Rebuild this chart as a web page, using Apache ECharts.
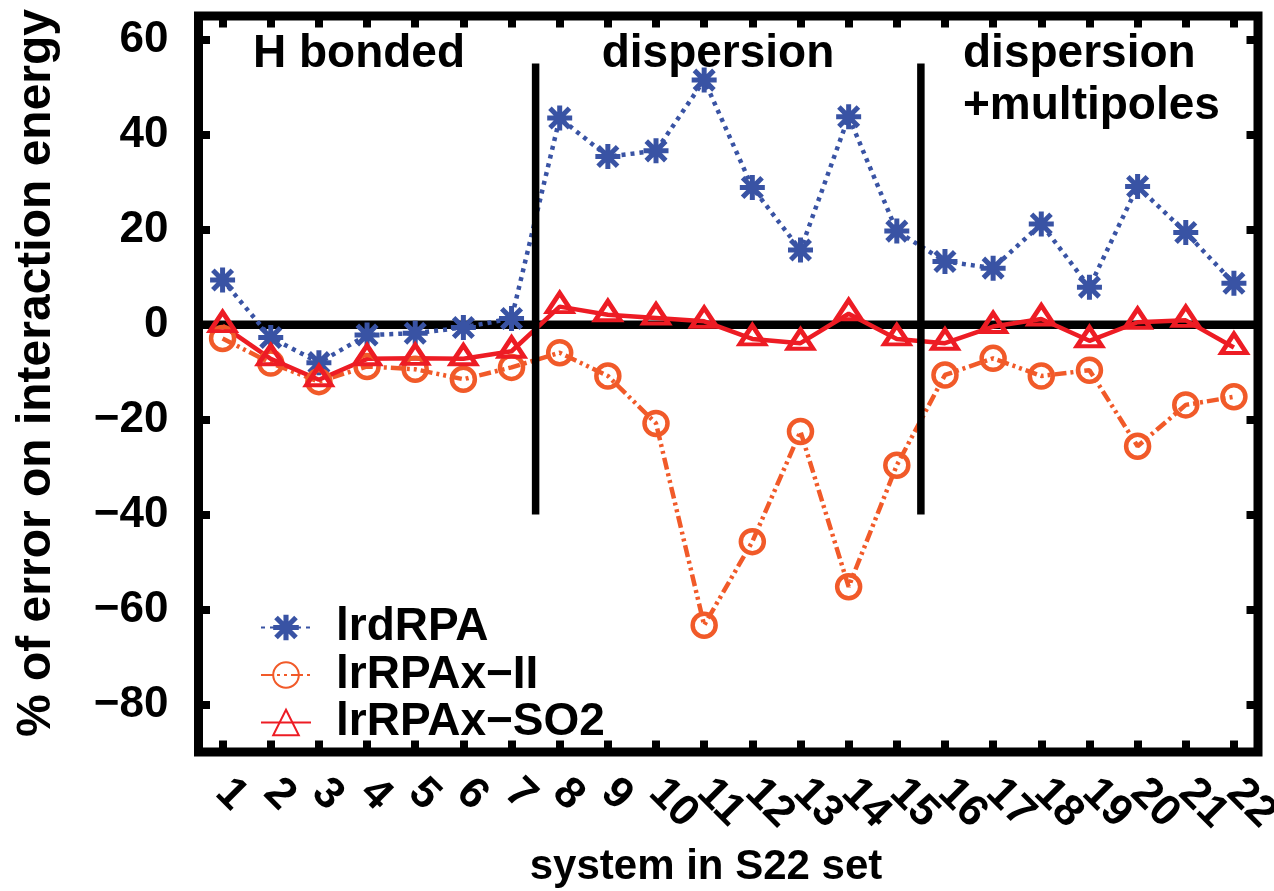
<!DOCTYPE html>
<html>
<head>
<meta charset="utf-8">
<script src="https://cdn.jsdelivr.net/npm/echarts@6/dist/echarts.min.js"></script>
<style>
  html, body { margin: 0; padding: 0; background: #fff; }
  #chart { width: 1274px; height: 891px; }
</style>
</head>
<body>
<div id="chart"></div>
<script>
// S22 benchmark: percentage error on the interaction energy per system
const systems = [1, 2, 3, 4, 5, 6, 7, 8, 9, 10, 11, 12, 13, 14, 15, 16, 17, 18, 19, 20, 21, 22];
const systemLabels = ['1', '2', '3', '4', '5', '6', '7', '8', '9', '10', '11',
                      '12', '13', '14', '15', '16', '17', '18', '19', '20', '21', '22'];
const yTickValues = [-80, -60, -40, -20, 0, 20, 40, 60];

const lrdRPA    = [9.4, -2.7, -8.0, -2.2, -1.8, -0.6, 1.3, 43.5, 35.4, 36.6, 51.5,
                   28.9, 15.7, 43.8, 19.7, 13.3, 11.9, 21.2, 7.9, 29.1, 19.4, 8.7];
const lrRPAxII  = [-2.9, -8.1, -12.0, -8.8, -9.4, -11.5, -9.0, -5.9, -10.8, -20.8, -63.3,
                   -45.7, -22.5, -55.2, -29.6, -10.6, -7.1, -10.8, -9.6, -25.6, -16.9, -15.2];
const lrRPAxSO2 = [-0.2, -7.2, -11.6, -7.2, -7.1, -7.2, -5.6, 3.8, 2.1, 1.4, 0.7,
                   -3.0, -3.9, 2.3, -3.0, -3.9, -0.4, 1.2, -3.4, 0.5, 0.9, -4.8];

const seriesNames = ['lrdRPA', 'lrRPAx\u2212II', 'lrRPAx\u2212SO2'];
const groupDividers = [7.5, 15.5];      // boundaries between the three classes
const dividerSpan = [-40, 55];
const groupTitles = ['H bonded', 'dispersion', 'dispersion\n+multipoles'];
const xTitle = 'system in S22 set';
const yTitle = '% of error on interaction energy';

const X_MIN = 0.5, X_MAX = 22.5;

const FONT = '"Liberation Sans", Arial, Helvetica, sans-serif';
const BLUE = '#3953a4', ORANGE = '#f15a29', RED = '#ed1c24';

// eight-armed asterisk built from filled bars
const ASTERISK = 'path://M0 40L100 40L100 60L0 60Z M40 0L60 0L60 100L40 100Z ' +
  'M18.1 3.9L96.1 81.9L81.9 96.1L3.9 18.1Z M81.9 3.9L96.1 18.1L18.1 96.1L3.9 81.9Z';

const pts = arr => systems.map((s, i) => [s, arr[i]]);

// blank end stops at the axis limits keep every rotated system label visible
const xLabelValues = [X_MIN].concat(systems, [X_MAX]);
const xLabelText = v => {
  const i = systems.indexOf(v);
  return i < 0 ? '' : systemLabels[i];
};

const chart = echarts.init(document.getElementById('chart'), null, { renderer: 'canvas' });

const tickStyle = { color: '#000', width: 8 };
const xAxisBase = {
  type: 'value', min: X_MIN, max: X_MAX, gridIndex: 0,
  axisLine: { show: false, onZero: false }, splitLine: { show: false },
  axisTick: { show: true, inside: true, length: 11.5, lineStyle: tickStyle, customValues: xLabelValues }
};
const yAxisBase = {
  type: 'value', min: -90, max: 65, gridIndex: 0,
  axisLine: { show: false, onZero: false }, splitLine: { show: false },
  axisTick: { show: true, inside: true, length: 11.5, lineStyle: tickStyle, customValues: yTickValues }
};

const dividerSeries = groupDividers.map(x => ({
  type: 'line', silent: true, z: 3, symbol: 'none',
  lineStyle: { color: '#000', width: 7.5, cap: 'butt' },
  data: [[x, dividerSpan[0]], [x, dividerSpan[1]]]
}));

const option = {
  animation: false,
  backgroundColor: '#fff',
  grid: {
    left: 198.5, top: 16, width: 1059.5, height: 736,
    containLabel: false, outerBoundsMode: 'none',
    show: true, borderColor: '#000', borderWidth: 9, backgroundColor: 'transparent'
  },
  xAxis: [
    Object.assign({}, xAxisBase, {
      position: 'bottom',
      axisLabel: {
        show: true, customValues: xLabelValues, rotate: -45, margin: 34,
        showMinLabel: false, showMaxLabel: false, hideOverlap: false,
        formatter: xLabelText,
        fontSize: 44, fontWeight: 'bold', color: '#000', fontFamily: FONT
      }
    }),
    Object.assign({}, xAxisBase, { position: 'top', axisLabel: { show: false } })
  ],
  yAxis: [
    Object.assign({}, yAxisBase, {
      position: 'left',
      axisLabel: {
        show: true, customValues: yTickValues, margin: 30,
        showMinLabel: true, showMaxLabel: true,
        formatter: v => (v < 0 ? '\u2212' + Math.abs(v) : String(v)),
        fontSize: 44, fontWeight: 'bold', color: '#000', fontFamily: FONT
      }
    }),
    Object.assign({}, yAxisBase, { position: 'right', axisLabel: { show: false } })
  ],
  legend: {
    data: seriesNames,
    orient: 'vertical', left: 255, top: 599,
    itemWidth: 50, itemHeight: 32, itemGap: 0.5,
    selectedMode: false,
    textStyle: {
      fontSize: 46, fontWeight: 'bold', color: '#000', fontFamily: FONT,
      lineHeight: 47, padding: [0, 0, 0, 20]
    }
  },
  series: [
    {
      type: 'line', silent: true, z: 1, symbol: 'none',
      lineStyle: { color: '#000', width: 8.5, cap: 'butt' },
      data: [[X_MIN, 0], [X_MAX, 0]]
    },
    {
      name: seriesNames[0], type: 'line', z: 2,
      symbol: ASTERISK, symbolSize: 25,
      itemStyle: { color: BLUE, borderWidth: 0 },
      lineStyle: { color: BLUE, width: 4.5, type: [4, 5] },
      emphasis: { disabled: true },
      data: pts(lrdRPA)
    },
    {
      name: seriesNames[1], type: 'line', z: 2,
      symbol: 'circle', symbolSize: 23,
      itemStyle: { color: 'rgba(255,255,255,0)', borderColor: ORANGE, borderWidth: 4.5 },
      lineStyle: { color: ORANGE, width: 4.5, type: [12, 4, 3, 4, 3, 4] },
      emphasis: { disabled: true },
      data: pts(lrRPAxII)
    },
    {
      name: seriesNames[2], type: 'line', z: 2,
      symbol: 'triangle', symbolSize: [25, 19], symbolOffset: [0, -4],
      itemStyle: { color: 'rgba(255,255,255,0)', borderColor: RED, borderWidth: 4.5 },
      lineStyle: { color: RED, width: 4.5, type: 'solid' },
      emphasis: { disabled: true },
      data: pts(lrRPAxSO2)
    }
  ].concat(dividerSeries),
  graphic: [
    {
      type: 'text', x: 359, y: 33,
      style: { text: groupTitles[0], font: 'bold 46px ' + FONT, fill: '#000',
               align: 'center', verticalAlign: 'top', lineHeight: 42 }
    },
    {
      type: 'text', x: 718, y: 33,
      style: { text: groupTitles[1], font: 'bold 46px ' + FONT, fill: '#000',
               align: 'center', verticalAlign: 'top', lineHeight: 42 }
    },
    {
      type: 'text', x: 963, y: 28,
      style: { text: groupTitles[2], font: 'bold 46px ' + FONT, fill: '#000',
               align: 'left', verticalAlign: 'top', lineHeight: 52 }
    },
    {
      type: 'text', x: 706, y: 867,
      style: { text: xTitle, font: 'bold 42px ' + FONT, fill: '#000',
               align: 'center', verticalAlign: 'middle' }
    },
    {
      type: 'text', x: 37, y: 373, rotation: Math.PI / 2,
      style: { text: yTitle, font: 'bold 48px ' + FONT, fill: '#000',
               align: 'center', verticalAlign: 'middle' }
    }
  ]
};

chart.setOption(option);
</script>
</body>
</html>
